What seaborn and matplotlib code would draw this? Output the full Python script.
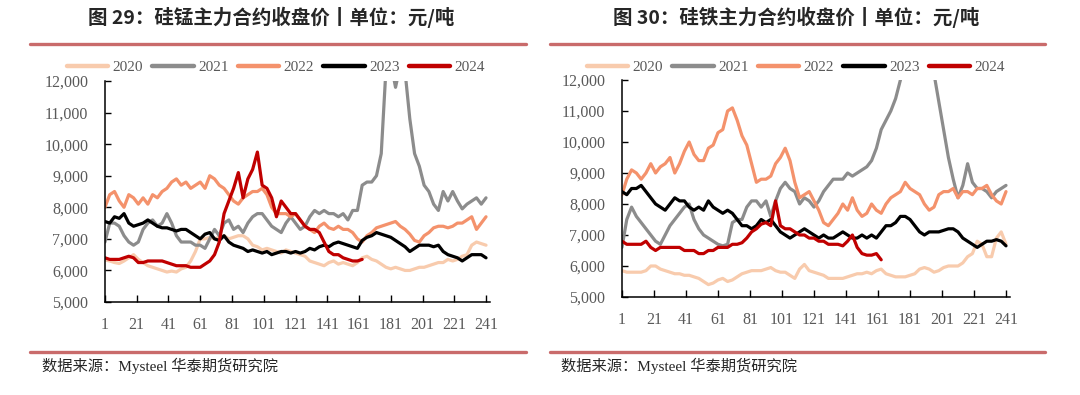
import matplotlib
matplotlib.use("Agg")
import matplotlib.pyplot as plt
from matplotlib.lines import Line2D
import seaborn as sns
import pandas as pd

# trading-day index, sampled every 3 days
days = list(range(1, 242, 3))
years = ["2020", "2021", "2022", "2023", "2024"]
colors = ["#F8CBAD", "#8C8C8C", "#F4926C", "#000000", "#C00000"]
xticks = list(range(1, 242, 20))

# ---- 硅锰 (SiMn) ----
simn_2020 = [6330, 6300, 6250, 6220, 6300, 6400, 6500, 6350, 6250, 6150, 6100, 6050, 6000, 5950, 5980,
             5950, 6050, 6100, 6300, 6600, 7000, 7000, 7050, 7000, 7050, 7100, 7000, 7050, 7100, 7100,
             7000, 6800, 6750, 6650, 6700, 6650, 6600, 6550, 6650, 6600, 6550, 6500, 6450, 6300, 6250,
             6200, 6150, 6250, 6300, 6200, 6250, 6200, 6150, 6250, 6400, 6450, 6350, 6300, 6200, 6100,
             6050, 6100, 6050, 6000, 6000, 6050, 6100, 6100, 6150, 6200, 6250, 6250, 6350, 6300, 6350,
             6450, 6500, 6800, 6900, 6850, 6800]
simn_2021 = [6900, 7500, 7500, 7400, 7100, 6900, 6800, 6900, 7300, 7500, 7600, 7400, 7500, 7800, 7500,
             7100, 6900, 6900, 6900, 6800, 6800, 6700, 7000, 7300, 7100, 7500, 7600, 7300, 7400, 7200,
             7500, 7700, 7800, 7800, 7600, 7400, 7300, 7200, 7500, 7700, 7500, 7300, 7400, 7700, 7900,
             7800, 7900, 7800, 7800, 7700, 7800, 7600, 7900, 7900, 8700, 8800, 8800, 9000, 9700, 12400,
             12600, 11800, 12500, 12300, 10800, 9700, 9300, 8700, 8500, 8100, 7900, 8500, 8200, 8500, 8200,
             7950, 8100, 8200, 8300, 8100, 8300]
simn_2022 = [8000, 8400, 8500, 8200, 8000, 8400, 8300, 8100, 8300, 8100, 8400, 8300, 8500, 8600, 8800,
             8900, 8700, 8800, 8600, 8700, 8800, 8600, 9000, 8900, 8700, 8600, 8400, 8200, 8100, 8300,
             8400, 8500, 8500, 8600, 8400, 8000, 7800, 7800, 7800, 7700, 7800, 7600, 7400, 7300, 7200,
             7400, 7500, 7350, 7300, 7400, 7300, 7300, 7200, 7000, 6900, 7100, 7200, 7350, 7400, 7450,
             7500, 7550, 7400, 7300, 7150, 6950, 6900, 7100, 7200, 7350, 7400, 7400, 7350, 7400, 7500,
             7500, 7600, 7700, 7300, 7500, 7700]
simn_2023 = [7550, 7500, 7700, 7650, 7800, 7500, 7400, 7450, 7500, 7600, 7500, 7400, 7350, 7350, 7300,
             7250, 7300, 7300, 7200, 7100, 7000, 7150, 7200, 7000, 6950, 7100, 6900, 6800, 6750, 6700,
             6600, 6650, 6600, 6550, 6600, 6500, 6550, 6600, 6600, 6550, 6600, 6550, 6600, 6700, 6650,
             6750, 6800, 6750, 6850, 6900, 6850, 6800, 6750, 6700, 6950, 7050, 7100, 7200, 7150, 7100,
             7050, 6950, 6850, 6750, 6600, 6700, 6800, 6800, 6800, 6750, 6800, 6600, 6500, 6450, 6400,
             6300, 6400, 6500, 6500, 6500, 6400]
simn_2024 = [6400, 6350, 6350, 6350, 6400, 6450, 6400, 6250, 6250, 6300, 6300, 6300, 6300, 6250, 6200,
             6150, 6150, 6150, 6100, 6100, 6100, 6200, 6300, 6500, 6900, 7800, 8200, 8600, 9100, 8300,
             8900, 9200, 9750, 8700, 8600, 8300, 7700, 8200, 8000, 7800, 7800, 7600, 7400, 7300, 7300,
             7200, 6900, 6600, 6500, 6500, 6400, 6350, 6300, 6300, 6350]

# ---- 硅铁 (FeSi) ----
fesi_2020 = [5850, 5800, 5800, 5800, 5800, 5850, 6000, 6000, 5900, 5850, 5800, 5750, 5750, 5700, 5700,
             5650, 5600, 5500, 5400, 5450, 5550, 5600, 5500, 5550, 5650, 5750, 5800, 5850, 5850, 5850,
             5900, 5950, 5850, 5800, 5800, 5700, 5600, 5900, 6050, 5850, 5800, 5750, 5700, 5600, 5600,
             5600, 5600, 5650, 5700, 5750, 5750, 5800, 5750, 5850, 5900, 5750, 5700, 5650, 5650, 5650,
             5700, 5750, 5900, 5950, 5900, 5800, 5850, 5950, 6000, 6000, 6000, 6100, 6300, 6400, 6800,
             6700, 6300, 6300, 6900, 7100, 6700]
fesi_2021 = [6600, 7500, 7900, 7600, 7400, 7200, 7000, 6800, 6700, 7000, 7300, 7500, 7700, 7900, 8000,
             7500, 7200, 7000, 6900, 6800, 6700, 6650, 6700, 7400, 7500, 7500, 7900, 8100, 8100, 7900,
             8100, 7600, 8100, 8500, 8700, 8500, 8400, 8000, 8200, 8100, 7900, 8100, 8400, 8600, 8800,
             8800, 8800, 9000, 8900, 9000, 9100, 9200, 9400, 9800, 10400, 10700, 11000, 11400, 12000, 12600,
             13000, 13200, 13300, 13200, 12800, 12200, 11300, 10400, 9500, 8800, 8200, 8600, 9300, 8700, 8500,
             8500, 8400, 8200, 8400, 8500, 8600]
fesi_2022 = [8300, 8800, 9100, 9000, 8800, 9000, 9300, 9000, 9200, 9300, 9500, 9000, 9300, 9700, 10000,
             9600, 9400, 9400, 9800, 9900, 10300, 10400, 11000, 11100, 10700, 10200, 9900, 9300, 8700, 8800,
             8800, 8900, 9300, 9500, 9800, 9400, 8700, 8200, 8300, 8400, 8100, 7800, 7400, 7300, 7500,
             7700, 8000, 7800, 8200, 7800, 7600, 7700, 8000, 7800, 7700, 8000, 8200, 8300, 8400, 8700,
             8500, 8400, 8300, 8000, 7800, 7900, 8300, 8400, 8400, 8500, 8200, 8400, 8400, 8300, 8500,
             8500, 8600, 8300, 8100, 8000, 8400]
fesi_2023 = [8400, 8300, 8500, 8500, 8600, 8400, 8200, 8000, 7900, 7800, 8000, 8200, 8100, 8100, 7900,
             7800, 7900, 7800, 8100, 7900, 7800, 7700, 7800, 7700, 7500, 7300, 7300, 7200, 7300, 7500,
             7400, 7500, 7300, 7100, 7000, 6900, 7000, 7100, 7200, 7100, 7000, 6900, 7000, 6900, 6900,
             7000, 7100, 7000, 6900, 6900, 7000, 6900, 7000, 6900, 7100, 7300, 7300, 7400, 7600, 7600,
             7500, 7300, 7100, 7000, 7100, 7100, 7100, 7150, 7200, 7200, 7100, 6900, 6800, 6700, 6600,
             6700, 6800, 6800, 6850, 6800, 6650]
fesi_2024 = [6800, 6700, 6700, 6700, 6700, 6800, 6600, 6500, 6600, 6600, 6600, 6600, 6600, 6500, 6500,
             6500, 6400, 6400, 6500, 6500, 6600, 6600, 6600, 6700, 6700, 6750, 6900, 7100, 7200, 7350,
             7400, 7300, 8100, 7300, 7200, 7200, 7100, 7000, 7000, 6900, 6900, 6800, 6800, 6700, 6700,
             6700, 6650, 6800, 7000, 6600, 6400, 6350, 6350, 6400, 6200]

panels = [
    ("图 29：硅锰主力合约收盘价丨单位：元/吨", [simn_2020, simn_2021, simn_2022, simn_2023, simn_2024]),
    ("图 30：硅铁主力合约收盘价丨单位：元/吨", [fesi_2020, fesi_2021, fesi_2022, fesi_2023, fesi_2024]),
]

sns.set_style("ticks")
plt.rcParams["font.family"] = ["Liberation Serif", "Noto Sans CJK SC", "DejaVu Sans"]
tick_color = "#595959"
rule_color = "#C96B6B"
palette = dict(zip(years, colors))

fig = plt.figure(figsize=(10.8, 3.95), dpi=100)

axes_rects = [[0.0972, 0.2354, 0.3565, 0.5595], [0.5759, 0.2481, 0.3593, 0.5494]]
title_x = [0.251, 0.737]
legend_x = [0.2556, 0.7370]
rule_x = [(0.0278, 0.487), (0.509, 0.968)]
source_x = [0.039, 0.519]

for k, (title, series) in enumerate(panels):
    rows = []
    for yr, vals in zip(years, series):
        for d, v in zip(days, vals):
            rows.append({"day": d, "price": v, "year": yr})
    df = pd.DataFrame(rows)

    ax = fig.add_axes(axes_rects[k])
    sns.lineplot(data=df, x="day", y="price", hue="year", palette=palette,
                 linewidth=2.3, estimator=None, legend=False, ax=ax)
    ax.set_xlim(1, 243.5)
    ax.set_ylim(5000, 12000)
    ax.set_xticks(xticks)
    ax.set_yticks(range(5000, 12001, 1000))
    ax.set_yticklabels([f"{v:,}" for v in range(5000, 12001, 1000)])
    ax.set_xlabel("")
    ax.set_ylabel("")
    ax.tick_params(axis="both", direction="in", colors="black", labelcolor=tick_color,
                   labelsize=11.5, width=1, length=4)
    ax.tick_params(axis="x", pad=11, length=5)
    ax.tick_params(axis="y", pad=12)
    sns.despine(ax=ax)
    for s in ["left", "bottom"]:
        ax.spines[s].set_linewidth(1.1)
        ax.spines[s].set_color("black")

    handles = [Line2D([], [], color=c, lw=3.2) for c in colors]
    fig.legend(handles, years, loc="center", bbox_to_anchor=(legend_x[k], 0.830), ncol=5,
               frameon=False, fontsize=11, handlelength=2.7, handletextpad=0.3,
               columnspacing=0.6, labelcolor=tick_color)

    fig.text(title_x[k], 0.955, title, ha="center", va="center", fontsize=14,
             fontweight="bold", family=["Noto Sans CJK SC", "DejaVu Sans"])
    fig.add_artist(Line2D(rule_x[k], [0.8886, 0.8886], color=rule_color, lw=2.4))
    fig.add_artist(Line2D(rule_x[k], [0.1089, 0.1089], color=rule_color, lw=2.4))
    fig.text(source_x[k], 0.073, "数据来源：Mysteel 华泰期货研究院", ha="left", va="center",
             fontsize=11, family=["Liberation Serif", "Noto Sans CJK SC"])

fig.savefig("out.png", dpi=100)
